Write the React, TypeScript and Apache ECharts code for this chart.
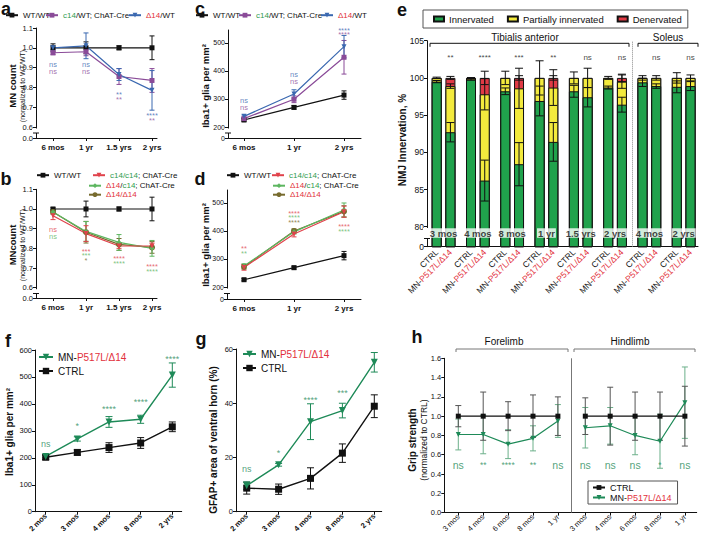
import React, { useEffect, useRef } from 'react';
import * as echarts from 'echarts';

const FONT = '"Liberation Sans", Arial, Helvetica, sans-serif';
const INK = '#111111';
const TXT_GREEN = '#2f9d4e';
const TXT_RED = '#e2303c';
const PURPLE = '#8a4b98';
const BLUE = '#3a68b0';
const RED = '#e0424b';
const LGREEN = '#5db660';
const OLIVE = '#776b2e';
const TEAL = '#1e8a58';
const TEAL_LIGHT = '#6cb08a';
const BAR_GREEN = '#20a24c';
const BAR_YELLOW = '#f3ea3d';
const BAR_RED = '#e03a45';

// ---------- panel a ----------
const aCats = ['6 mos', '1 yr', '1.5 yrs', '2 yrs'];
const aX = [0, 1, 2, 3];
const aWT = [1.0, 1.0, 1.0, 1.0];
const aWTErr = [0.02, 0.03, 0.01, 0.06];
const aC14 = [0.975, 0.98, 0.855, 0.835];
const aC14Err = [0.01, 0.02, 0.04, 0.06];
const aD14 = [1.0, 1.01, 0.865, 0.785];
const aD14Err = [0.01, 0.065, 0.03, 0.1];
const aSigD14 = [[0, 0.914, 'ns'], [1, 0.914, 'ns'], [2, 0.763, '**'], [3, 0.657, '****']];
const aSigC14 = [[0, 0.88, 'ns'], [1, 0.88, 'ns'], [2, 0.737, '**'], [3, 0.633, '**']];
const abTicks = [0.6, 0.7, 0.8, 0.9, 1.0, 1.1];

// ---------- panel b ----------
const bWT = [1.0, 1.0, 1.0, 1.0];
const bWTErr = [0.006, 0.04, 0.01, 0.06];
const bC14 = [0.966, 0.875, 0.812, 0.812];
const bC14Err = [0.02, 0.04, 0.012, 0.015];
const bD14c14 = [0.985, 0.886, 0.83, 0.8];
const bD14c14Err = [0.012, 0.05, 0.04, 0.04];
const bD14D14 = [0.985, 0.882, 0.82, 0.805];
const bD14D14Err = [0.01, 0.055, 0.03, 0.03];
const bSigC14 = [[0, 0.895, 'ns'], [1, 0.785, '***'], [2, 0.746, '****'], [3, 0.706, '****']];
const bSigD14c14 = [[0, 0.861, 'ns'], [1, 0.763, '***'], [2, 0.722, '****'], [3, 0.683, '****']];
const bSigD14D14 = [[1, 0.739, '*']];

// ---------- panel c ----------
const cCats = ['6 mos', '1 yr', '2 yrs'];
const cX = [0, 1, 2];
const cWT = [225, 270, 314];
const cWTErr = [5, 6, 15];
const cC14 = [230, 299, 449];
const cC14Err = [5, 12, 60];
const cD14 = [238, 318, 487];
const cD14Err = [5, 15, 40];
const cSigD14 = [[0, 296, 'ns'], [1, 386, 'ns'], [2, 544, '****']];
const cSigC14 = [[0, 270, 'ns'], [1, 364, 'ns'], [2, 530, '****']];
const cdTicks = [200, 300, 400, 500];

// ---------- panel d ----------
const dWT = [226, 269, 312];
const dWTErr = [4, 5, 15];
const dC14 = [270, 389, 469];
const dC14Err = [10, 10, 20];
const dD14c14 = [275, 397, 475];
const dD14c14Err = [8, 8, 25];
const dD14D14 = [272, 400, 470];
const dD14D14Err = [8, 8, 20];
const dSigC14 = [[0, 338, '**'], [1, 463, '****'], [2, 415, '****']];
const dSigD14c14 = [[0, 318, '**'], [1, 448, '****'], [2, 398, '****']];
const dSigD14D14 = [[1, 432, '****']];

// ---------- panel e ----------
const ePos = [0, 0.4, 1, 1.4, 2, 2.4, 3, 3.4, 4, 4.4, 5, 5.4, 6, 6.4, 7, 7.4];
const eInner = [99.5, 92.7, 99.8, 86.2, 98.2, 88.4, 96.9, 91.4, 98.2, 97.4, 98.7, 96.4, 99.4, 98.9, 98.8, 98.9];
const ePartial = [0.5, 6.2, 0.2, 11.6, 1.8, 10.2, 3.1, 7.3, 1.8, 2.6, 1.3, 3.1, 0.6, 1.1, 1.2, 1.1];
const eDen = [0, 1.1, 0, 2.2, 0, 1.4, 0, 1.3, 0, 0, 0, 0.5, 0, 0, 0, 0];
const eInnerErr = [0.15, 1.3, 0.1, 2.75, 0.45, 2.9, 2.0, 2.6, 0.8, 1.3, 0.2, 1.0, 0.55, 0.3, 0.8, 0.6];
const ePartialErr = [0.1, 0.3, 0.05, 2.1, 0.9, 2.7, 2.3, 2.4, 0.8, 1.3, 0.2, 0.9, 0.3, 0.3, 0.7, 0.4];
const eDenErr = [0, 0.2, 0, 0.9, 0, 0.3, 0, 0.3, 0, 0, 0, 0.5, 0, 0, 0, 0];
const eGroups = ['3 mos', '4 mos', '8 mos', '1 yr', '1.5 yrs', '2 yrs', '4 mos', '2 yrs'];
const eSig = ['**', '****', '***', '**', 'ns', 'ns', 'ns', 'ns'];
const eTicks = [80, 85, 90, 95, 100, 105];

// ---------- panel f ----------
const fgCats = ['2 mos', '3 mos', '4 mos', '8 mos', '2 yrs'];
const fgX = [0, 1, 2, 3, 4];
const fCTRL = [202, 220, 238, 255, 315];
const fCTRLErr = [8, 10, 18, 20, 18];
const fMN = [205, 270, 333, 343, 507];
const fMNErr = [5, 8, 20, 15, 45];
const fSig = [[0, 251, 'ns'], [1, 318, '*'], [2, 380, '****'], [3, 408, '****'], [4, 567, '****']];
const fTicks = [0, 100, 200, 300, 400, 500, 600];

// ---------- panel g ----------
const gCTRL = [8.7, 8.3, 12.3, 21.6, 38.9];
const gCTRLErr = [2.2, 1.9, 3.9, 3.4, 4.2];
const gMN = [9.6, 17.3, 33.2, 37.3, 55.1];
const gMNErr = [1.4, 0.5, 6.6, 2.7, 3.6];
const gSig = [[0, 15.7, 'ns'], [1, 21.8, '*'], [2, 41.3, '****'], [3, 43.8, '***'], [4, 60.3, '***']];
const gTicks = [0, 20, 40, 60];

// ---------- panel h ----------
const hCats = ['3 mos', '4 mos', '6 mos', '8 mos', '1 yr', '3 mos', '4 mos', '6 mos', '8 mos', '1 yr'];
const hX = [0, 1, 2, 3, 4, 5.1, 6.1, 7.1, 8.1, 9.1];
const hCTRL = [1, 1, 1, 1, 1, 1, 1, 1, 1, 1];
const hCTRLErr = [0.11, 0.25, 0.15, 0.22, 0.2, 0.19, 0.3, 0.25, 0.25, 0.31];
const hMN = [0.81, 0.81, 0.71, 0.77, 0.95, 0.88, 0.9, 0.8, 0.74, 1.14];
const hMNErr = [0.16, 0.2, 0.15, 0.13, 0.17, 0.21, 0.19, 0.2, 0.28, 0.37];
const hSig = ['ns', '**', '****', '**', 'ns', 'ns', 'ns', 'ns', '*', 'ns'];
const hSigY = 0.49;
const hTicks = [0, 0.2, 0.4, 0.6, 0.8, 1.0, 1.2, 1.4, 1.6];

const LBL: Record<string, string> = {
  aWT: 'WT/WT', aC14: '{g|c14}/WT; ChAT-Cre', aD14: '{r|Δ14}/WT',
  cWT: 'WT/WT', cC14: '{g|c14}/WT; ChAT-Cre', cD14: '{r|Δ14}/WT',
  bWT: 'WT/WT', bC14: '{g|c14/c14}; ChAT-Cre', bD14c14: '{r|Δ14}/{g|c14}; ChAT-Cre', bD14D14: '{r|Δ14/Δ14}',
  dWT: 'WT/WT', dC14: '{g|c14/c14}; ChAT-Cre', dD14c14: '{r|Δ14}/{g|c14}; ChAT-Cre', dD14D14: '{r|Δ14/Δ14}',
  fMN: 'MN-{r|P517L/Δ14}', fCTRL: 'CTRL', gMN: 'MN-{r|P517L/Δ14}', gCTRL: 'CTRL',
  hMN: 'MN-{r|P517L/Δ14}', hCTRL: 'CTRL',
};

function brokenMin(T: number, B: number, ymax: number, anc: number, ancPx: number) {
  return anc - ((B - ancPx) * (ymax - anc)) / (ancPx - T);
}

function buildOption() {
  const grid: any[] = [];
  const xAxis: any[] = [];
  const yAxis: any[] = [];
  const series: any[] = [];
  const legend: any[] = [];
  const graphic: any[] = [];
  const mkRich = (fs: number) => ({
    g: { color: TXT_GREEN, fontSize: fs, fontFamily: FONT },
    r: { color: TXT_RED, fontSize: fs, fontFamily: FONT },
  });
  const fmt = (n: string) => (LBL[n] !== undefined ? LBL[n] : n);
  const nearestFmt = (xs: number[], cats: string[]) => (v: number) => {
    let k = 0;
    let best = 1e9;
    xs.forEach((p, i) => {
      const d = Math.abs(p - v);
      if (d < best) { best = d; k = i; }
    });
    return cats[k];
  };

  const addPanel = (L: number, R: number, T: number, B: number, xo: any, yo: any) => {
    const i = grid.length;
    grid.push({ left: L, top: T, width: R - L, height: B - T, containLabel: false });
    xAxis.push({
      type: 'value', gridIndex: i, min: xo.min, max: xo.max,
      axisLine: { show: true, onZero: false, lineStyle: { color: INK, width: 1 } },
      axisTick: { show: xo.tick !== false, customValues: xo.ticks, length: 3, lineStyle: { color: INK } },
      axisLabel: {
        customValues: xo.ticks, formatter: xo.label, rotate: xo.rotate || 0,
        fontWeight: xo.bold ? 'bold' : 'normal', fontSize: xo.fontSize || 8, color: INK,
        fontFamily: FONT, margin: xo.margin !== undefined ? xo.margin : 5, rich: xo.rich,
      },
      splitLine: { show: false },
    });
    yAxis.push({
      type: 'value', gridIndex: i, min: yo.min, max: yo.max,
      axisLine: { show: true, onZero: false, lineStyle: { color: INK, width: 1 } },
      axisTick: { show: true, customValues: yo.ticks, length: 3, lineStyle: { color: INK } },
      axisLabel: {
        customValues: yo.ticks, formatter: yo.label, fontSize: yo.fontSize || 7.5,
        color: INK, fontFamily: FONT, margin: 3, showMinLabel: true, showMaxLabel: true,
      },
      splitLine: { show: false },
    });
    return i;
  };

  const errSeries = (gi: number, xs: number[], ys: number[], errs: number[], color: string, cap: number, lw = 1) => {
    const data: number[][] = [];
    ys.forEach((v, k) => {
      if (errs[k] > 0) data.push([xs[k], v - errs[k], v + errs[k]]);
    });
    series.push({
      type: 'custom', xAxisIndex: gi, yAxisIndex: gi, silent: true, z: 3, data,
      renderItem: (params: any, api: any) => {
        const x = api.value(0);
        const a = api.coord([x, api.value(1)]);
        const b = api.coord([x, api.value(2)]);
        const st = { stroke: color, lineWidth: lw };
        return {
          type: 'group',
          children: [
            { type: 'line', shape: { x1: a[0], y1: a[1], x2: b[0], y2: b[1] }, style: st },
            { type: 'line', shape: { x1: a[0] - cap, y1: a[1], x2: a[0] + cap, y2: a[1] }, style: st },
            { type: 'line', shape: { x1: b[0] - cap, y1: b[1], x2: b[0] + cap, y2: b[1] }, style: st },
          ],
        };
      },
    });
  };

  const lineS = (gi: number, name: string, xs: number[], ys: number[], errs: number[], color: string,
    symbol: string, size: number, o: any = {}) => {
    series.push({
      type: 'line', name, xAxisIndex: gi, yAxisIndex: gi,
      data: ys.map((v, k) => [xs[k], v]),
      symbol, symbolSize: size, symbolRotate: o.rotate || 0,
      lineStyle: { color, width: o.lw || 1.2 }, itemStyle: { color }, z: o.z || 4,
      markLine: o.markLine,
    });
    errSeries(gi, xs, ys, errs, o.errColor || color, o.cap || 2.5, o.errLw || 1);
  };

  const sigS = (gi: number, items: any[], color: string, fs = 7.5, extra: any = {}) => {
    series.push({
      type: 'scatter', xAxisIndex: gi, yAxisIndex: gi, silent: true, z: 6,
      symbol: 'rect', symbolSize: 1, itemStyle: { color: 'rgba(0,0,0,0)' },
      data: items.map((it: any) => ({ value: [it[0], it[1]], name: it[2], label: it[3] })),
      label: { show: true, position: 'inside', formatter: '{b}', color, fontSize: fs, fontFamily: FONT, lineHeight: fs, ...extra },
    });
  };

  const leg = (name: string, left: number, cy: number, fs = 8, iw = 12, ih = 6) => {
    legend.push({
      data: [name], left, top: cy - fs * 0.6, padding: 0, itemWidth: iw, itemHeight: ih,
      selectedMode: false, formatter: fmt,
      textStyle: { fontSize: fs, color: INK, fontFamily: FONT, rich: mkRich(fs) },
    });
  };

  const txt = (x: number, y: number, text: string, fs: number, bold: boolean, o: any = {}) => ({
    type: 'text', x, y, rotation: o.rot || 0, silent: true, z: 100,
    style: {
      text, fontSize: fs, fontWeight: bold ? 'bold' : 'normal', fontFamily: FONT,
      fill: o.color || INK, align: o.align || 'center', verticalAlign: 'middle',
    },
  });
  const brk = (ax: number, y1: number, y2: number) => {
    graphic.push({ type: 'rect', silent: true, z: 100, shape: { x: ax - 4, y: y1, width: 6, height: y2 - y1 }, style: { fill: '#ffffff' } });
    graphic.push({ type: 'line', silent: true, z: 101, shape: { x1: ax - 3, y1: y2, x2: ax + 3, y2 }, style: { stroke: INK, lineWidth: 1 } });
  };
  const bracket = (x1: number, x2: number, y: number, drop: number, color: string) => {
    graphic.push({
      type: 'polyline', silent: true, z: 100,
      shape: { points: [[x1, y + drop], [x1, y], [x2, y], [x2, y + drop]] },
      style: { stroke: color, lineWidth: 1, fill: 'none' },
    });
  };
  const ROT = Math.PI / 2;

  // ===== panel a =====
  {
    const L = 36, R = 157, T = 28, B = 138;
    const vmin = brokenMin(T, B, 1.1, 0.6, 127);
    const gi = addPanel(L, R, T, B,
      { min: (L - 53) / 33, max: (R - 53) / 33, ticks: aX, label: nearestFmt(aX, aCats), bold: true, fontSize: 8 },
      { min: vmin, max: 1.1, ticks: [vmin, ...abTicks], label: (v: number) => (v < 0.58 ? '0.0' : v.toFixed(1)) });
    lineS(gi, 'aWT', aX, aWT, aWTErr, INK, 'rect', 5);
    lineS(gi, 'aC14', aX, aC14, aC14Err, PURPLE, 'rect', 5);
    lineS(gi, 'aD14', aX, aD14, aD14Err, BLUE, 'triangle', 5, { rotate: 180 });
    sigS(gi, aSigD14, BLUE);
    sigS(gi, aSigC14, PURPLE);
    leg('aWT', 5, 16); leg('aC14', 45, 16); leg('aD14', 128, 16);
    brk(L, 128.5, 133);
    graphic.push(txt(12.5, 86, 'MN count', 9.5, true, { rot: ROT }));
    graphic.push(txt(22, 86, '(normalized to WT/WT)', 7, false, { rot: ROT }));
  }
  // ===== panel b =====
  {
    const L = 36, R = 157, T = 189.3, B = 298;
    const vmin = brokenMin(T, B, 1.1, 0.6, 287.7);
    const gi = addPanel(L, R, T, B,
      { min: (L - 53) / 33, max: (R - 53) / 33, ticks: aX, label: nearestFmt(aX, aCats), bold: true, fontSize: 8 },
      { min: vmin, max: 1.1, ticks: [vmin, ...abTicks], label: (v: number) => (v < 0.58 ? '0.0' : v.toFixed(1)) });
    lineS(gi, 'bWT', aX, bWT, bWTErr, INK, 'rect', 5);
    lineS(gi, 'bD14D14', aX, bD14D14, bD14D14Err, OLIVE, 'circle', 6);
    lineS(gi, 'bD14c14', aX, bD14c14, bD14c14Err, LGREEN, 'diamond', 5);
    lineS(gi, 'bC14', aX, bC14, bC14Err, RED, 'triangle', 5, { rotate: 180 });
    sigS(gi, bSigC14, RED);
    sigS(gi, bSigD14c14, LGREEN);
    sigS(gi, bSigD14D14, OLIVE);
    leg('bWT', 36, 176); leg('bC14', 92, 176); leg('bD14c14', 88, 186.5); leg('bD14D14', 88, 195.5);
    brk(L, 289.2, 293.5);
    graphic.push(txt(12.5, 245, 'MNcount', 9.5, true, { rot: ROT }));
    graphic.push(txt(22, 245, '(normalized to WT/WT)', 7, false, { rot: ROT }));
  }
  // ===== panel c =====
  {
    const L = 228, R = 361, T = 30, B = 138;
    const vmin = brokenMin(T, B, 546.4, 200, 127);
    const gi = addPanel(L, R, T, B,
      { min: (L - 244) / 50, max: (R - 244) / 50, ticks: cX, label: nearestFmt(cX, cCats), bold: true, fontSize: 8 },
      { min: vmin, max: 546.4, ticks: [vmin, ...cdTicks], label: (v: number) => (v < 190 ? '0' : String(Math.round(v))), fontSize: 7 });
    lineS(gi, 'cWT', cX, cWT, cWTErr, INK, 'rect', 5);
    lineS(gi, 'cC14', cX, cC14, cC14Err, PURPLE, 'rect', 5);
    lineS(gi, 'cD14', cX, cD14, cD14Err, BLUE, 'triangle', 5, { rotate: 180 });
    sigS(gi, cSigD14, BLUE);
    sigS(gi, cSigC14, PURPLE);
    leg('cWT', 195, 16); leg('cC14', 238, 16); leg('cD14', 320, 16);
    brk(L, 128.5, 133);
    graphic.push(txt(205, 86, 'Iba1+ glia per mm²', 9.5, true, { rot: ROT }));
  }
  // ===== panel d =====
  {
    const L = 227, R = 361, T = 190, B = 299;
    const vmin = brokenMin(T, B, 546.4, 200, 287);
    const gi = addPanel(L, R, T, B,
      { min: (L - 244) / 50, max: (R - 244) / 50, ticks: cX, label: nearestFmt(cX, cCats), bold: true, fontSize: 8 },
      { min: vmin, max: 546.4, ticks: [vmin, ...cdTicks], label: (v: number) => (v < 190 ? '0' : String(Math.round(v))), fontSize: 7 });
    lineS(gi, 'dWT', cX, dWT, dWTErr, INK, 'rect', 5);
    lineS(gi, 'dD14D14', cX, dD14D14, dD14D14Err, OLIVE, 'circle', 6);
    lineS(gi, 'dD14c14', cX, dD14c14, dD14c14Err, LGREEN, 'diamond', 5);
    lineS(gi, 'dC14', cX, dC14, dC14Err, RED, 'triangle', 5, { rotate: 180 });
    sigS(gi, dSigC14, RED);
    sigS(gi, dSigD14c14, LGREEN);
    sigS(gi, dSigD14D14, OLIVE);
    leg('dWT', 226, 176); leg('dC14', 271, 176); leg('dD14c14', 272, 186.5); leg('dD14D14', 272, 195.5);
    brk(L, 288.5, 293.5);
    graphic.push(txt(205, 245, 'Iba1+ glia per mm²', 9.5, true, { rot: ROT }));
  }
  // ===== panel e =====
  {
    const L = 427, R = 698, T = 40.7, B = 246.7;
    const x0 = 436.7, dx = 34.3;
    const vmin = brokenMin(T, B, 105, 80, 226.7);
    const gi = addPanel(L, R, T, B,
      {
        min: (L - x0) / dx, max: (R - x0) / dx, ticks: ePos, tick: false, rotate: 45, fontSize: 8.5, margin: 4,
        label: (v: number) => {
          const k = ePos.findIndex((p) => Math.abs(p - v) < 1e-6);
          return k % 2 === 0 ? 'CTRL' : 'MN-{r|P517L/Δ14}';
        },
        rich: { r: { color: TXT_RED, fontSize: 8.5, fontFamily: FONT } },
      },
      { min: vmin, max: 105, ticks: [vmin, ...eTicks], label: (v: number) => (v < 79 ? '0' : String(Math.round(v))), fontSize: 8.5 });
    const barStyle = (c: string) => ({ color: c, borderColor: INK, borderWidth: 1 });
    const cum2 = eInner.map((v, k) => v + ePartial[k]);
    const cum3 = cum2.map((v, k) => v + eDen[k]);
    // layered (equivalent to stacked): totals behind, inner in front
    series.push({
      type: 'bar', name: 'Denervated', xAxisIndex: gi, yAxisIndex: gi, barWidth: 10, barGap: '-100%', z: 2,
      data: ePos.map((x, k) => [x, cum3[k]]), itemStyle: barStyle(BAR_RED),
      markLine: {
        silent: true, symbol: 'none', label: { show: false },
        lineStyle: { type: 'dotted', color: '#888', width: 1 }, data: [{ xAxis: 5.7 }],
      },
    });
    series.push({
      type: 'bar', name: 'Partially innervated', xAxisIndex: gi, yAxisIndex: gi, barWidth: 10, barGap: '-100%', z: 2,
      data: ePos.map((x, k) => [x, cum2[k]]), itemStyle: barStyle(BAR_YELLOW),
    });
    series.push({
      type: 'bar', name: 'Innervated', xAxisIndex: gi, yAxisIndex: gi, barWidth: 10, barGap: '-100%', z: 2,
      data: ePos.map((x, k) => [x, eInner[k]]), itemStyle: barStyle(BAR_GREEN),
    });
    errSeries(gi, ePos, eInner, eInnerErr, INK, 4);
    errSeries(gi, ePos, cum2, ePartialErr, INK, 4);
    errSeries(gi, ePos, cum3, eDenErr, INK, 4);
    sigS(gi, eSig.map((s, g) => [g + 0.4, 102.7, s]), INK, 8);
    sigS(gi, eGroups.map((s, g) => [g + 0.2, 79.15, s]), INK, 9.5, {
      fontWeight: 'bold', backgroundColor: '#ffffff', padding: [0, 1, 0, 1],
    });
    legend.push({
      data: ['Innervated', 'Partially innervated', 'Denervated'], left: 423, top: 10,
      padding: [4, 6, 4, 10], itemGap: 13, itemWidth: 10, itemHeight: 5, icon: 'rect',
      borderColor: '#555', borderWidth: 1, selectedMode: false,
      textStyle: { fontSize: 9.5, color: INK, fontFamily: FONT },
    });
    brk(L, 228, 238.5);
    bracket(430, 629, 43.3, 3.5, INK);
    bracket(638, 698, 43.3, 3.5, INK);
    graphic.push(txt(525, 37.5, 'Tibialis anterior', 10, false));
    graphic.push(txt(668, 37.5, 'Soleus', 10, false));
    graphic.push(txt(402, 140, 'NMJ Innervation, %', 10, true, { rot: ROT }));
  }
  // ===== panel f =====
  {
    const L = 35, R = 181.7, T = 350, B = 513;
    const x0 = 45.7, dx = 31.65;
    const gi = addPanel(L, R, T, B,
      { min: (L - x0) / dx, max: (R - x0) / dx, ticks: fgX, label: nearestFmt(fgX, fgCats), rotate: 45, bold: true, fontSize: 7.5, margin: 3 },
      { min: 0, max: 600, ticks: fTicks, label: (v: number) => String(Math.round(v)) });
    lineS(gi, 'fCTRL', fgX, fCTRL, fCTRLErr, INK, 'rect', 7, { cap: 3.5, lw: 1.4 });
    lineS(gi, 'fMN', fgX, fMN, fMNErr, TEAL, 'triangle', 7, { rotate: 180, cap: 3.5, lw: 1.4 });
    sigS(gi, fSig, TEAL, 9);
    leg('fMN', 38, 358, 10, 14, 8); leg('fCTRL', 38, 372, 10, 14, 8);
    graphic.push(txt(9.5, 432, 'Iba1+ glia per mm²', 10, true, { rot: ROT }));
  }
  // ===== panel g =====
  {
    const L = 236, R = 381.7, T = 349, B = 513;
    const x0 = 246.7, dx = 31.9;
    const gi = addPanel(L, R, T, B,
      { min: (L - x0) / dx, max: (R - x0) / dx, ticks: fgX, label: nearestFmt(fgX, fgCats), rotate: 45, bold: true, fontSize: 7.5, margin: 3 },
      { min: 0, max: 60, ticks: gTicks, label: (v: number) => String(Math.round(v)) });
    lineS(gi, 'gCTRL', fgX, gCTRL, gCTRLErr, INK, 'rect', 7, { cap: 3.5, lw: 1.4 });
    lineS(gi, 'gMN', fgX, gMN, gMNErr, TEAL, 'triangle', 7, { rotate: 180, cap: 3.5, lw: 1.4 });
    sigS(gi, gSig, TEAL, 9);
    leg('gMN', 242, 355, 10, 13, 8); leg('gCTRL', 242, 369, 10, 13, 8);
    graphic.push(txt(213.5, 440, 'GFAP+ area of ventral horn (%)', 10, true, { rot: ROT }));
  }
  // ===== panel h =====
  {
    const L = 444.3, R = 696.7, T = 358.3, B = 514.3;
    const x0 = 458.3, dx = 24.9;
    const gi = addPanel(L, R, T, B,
      { min: (L - x0) / dx, max: (R - x0) / dx, ticks: hX, label: nearestFmt(hX, hCats), rotate: 45, fontSize: 7.5, margin: 3 },
      { min: 0, max: 1.6, ticks: hTicks, label: (v: number) => v.toFixed(1) });
    const fore = [0, 1, 2, 3, 4];
    const hind = [5, 6, 7, 8, 9];
    const pick = (arr: number[], idx: number[]) => idx.map((i) => arr[i]);
    lineS(gi, 'hMN', pick(hX, fore), pick(hMN, fore), pick(hMNErr, fore), TEAL, 'triangle', 5, { rotate: 180, errColor: TEAL_LIGHT, cap: 3 });
    lineS(gi, 'hMN', pick(hX, hind), pick(hMN, hind), pick(hMNErr, hind), TEAL, 'triangle', 5, { rotate: 180, errColor: TEAL_LIGHT, cap: 3 });
    lineS(gi, 'hCTRL', pick(hX, fore), pick(hCTRL, fore), pick(hCTRLErr, fore), INK, 'rect', 5, {
      errColor: '#555', cap: 3, z: 5,
      markLine: {
        silent: true, symbol: 'none', label: { show: false },
        lineStyle: { type: 'solid', color: '#777', width: 1 }, data: [{ xAxis: 4.55 }],
      },
    });
    lineS(gi, 'hCTRL', pick(hX, hind), pick(hCTRL, hind), pick(hCTRLErr, hind), INK, 'rect', 5, { errColor: '#555', cap: 3, z: 5 });
    sigS(gi, hSig.map((s, k) => [hX[k], hSigY, s, s === 'ns' ? { fontSize: 10.5 } : undefined]), TEAL, 8.5);
    legend.push({
      data: ['hCTRL', 'hMN'], left: 588, top: 481, orient: 'vertical', padding: [2, 6, 2, 4], itemGap: 1,
      itemWidth: 12, itemHeight: 6, borderColor: '#555', borderWidth: 1, selectedMode: false, formatter: fmt,
      textStyle: { fontSize: 9, color: INK, fontFamily: FONT, rich: mkRich(9) },
    });
    bracket(456, 568, 349, 3, '#777');
    bracket(574, 695, 349, 3, '#777');
    graphic.push(txt(504, 341, 'Forelimb', 10, false));
    graphic.push(txt(630, 341, 'Hindlimb', 10, false));
    graphic.push(txt(412, 440, 'Grip strength', 10, true, { rot: ROT }));
    graphic.push(txt(423.5, 440, '(normalized to CTRL)', 8.5, false, { rot: ROT }));
  }

  // panel letters
  const letters: [string, number, number][] = [
    ['a', 6, 9], ['b', 6, 179], ['c', 200, 9], ['d', 200, 179],
    ['e', 402, 10], ['f', 8, 341], ['g', 201, 339], ['h', 417, 337],
  ];
  letters.forEach(([t, x, y]) => graphic.push(txt(x, y, t, 18, true)));

  return {
    animation: false,
    backgroundColor: '#ffffff',
    textStyle: { fontFamily: FONT },
    grid, xAxis, yAxis, series, legend, graphic,
  };
}

export default function App() {
  const ref = useRef<HTMLDivElement>(null);
  useEffect(() => {
    if (!ref.current) return;
    const chart = echarts.init(ref.current, null, { renderer: 'svg' });
    chart.setOption(buildOption() as any);
    return () => chart.dispose();
  }, []);
  return (
    <div
      ref={ref}
      style={{ position: 'fixed', left: 0, top: 0, width: 704, height: 535, background: '#fff' }}
    />
  );
}
